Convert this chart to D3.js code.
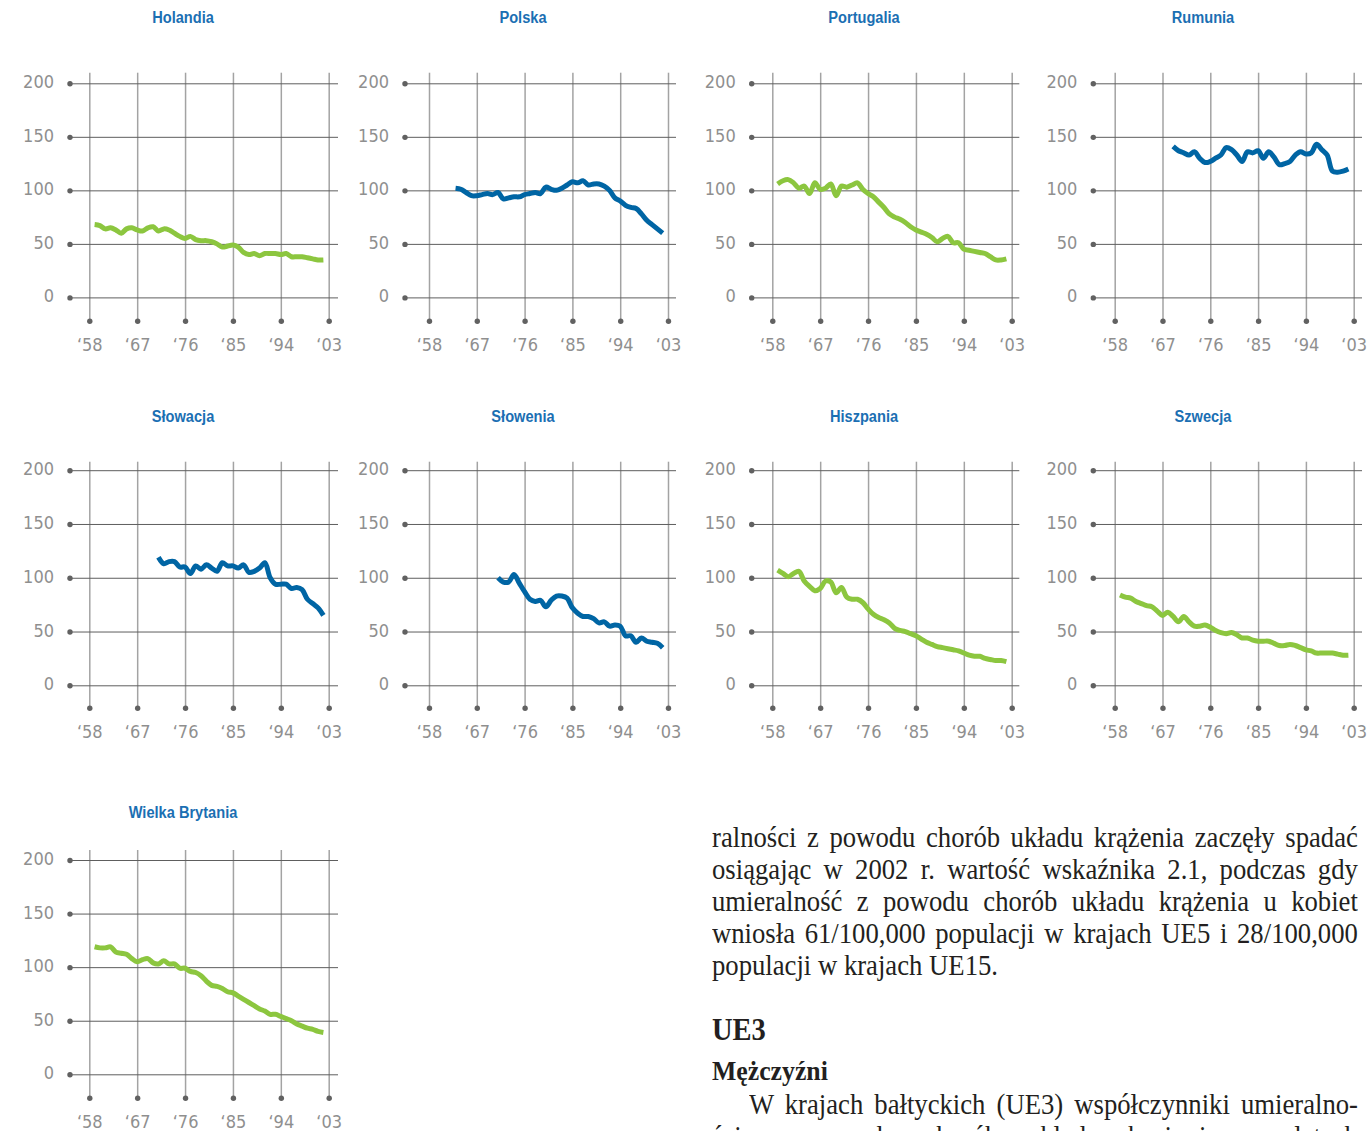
<!DOCTYPE html>
<html lang="pl">
<head>
<meta charset="utf-8">
<script src="https://cdn.jsdelivr.net/npm/d3@7"></script>
<style>
  html, body { margin: 0; padding: 0; background: #ffffff; }
  body { width: 1368px; height: 1131px; overflow: hidden; position: relative; }
  svg { position: absolute; left: 0; top: 0; }
  .txt { position: absolute; left: 712px; width: 702px; font-family: 'Liberation Serif', serif; font-size: 29px; line-height: 32px; color: #231f20; white-space: nowrap; transform: scaleX(0.92); transform-origin: 0 0; }
  .just { text-align: justify; text-align-last: justify; white-space: normal; }
  .h1 { font-weight: bold; font-size: 31px; }
  .h2 { font-weight: bold; font-size: 28px; }
</style>
</head>
<body>
<script>
// ---------- DATA ----------
const countries = ["Holandia", "Polska", "Portugalia", "Rumunia", "Słowacja", "Słowenia", "Hiszpania", "Szwecja", "Wielka Brytania"];
const groups = ["UE15", "nowe", "UE15", "nowe", "nowe", "nowe", "UE15", "UE15", "UE15"];
const startYears = [1959, 1963, 1959, 1969, 1971, 1971, 1959, 1959, 1959];

const holandia = [68, 67, 64, 65, 63, 60, 64, 65, 63, 62, 65, 66, 62, 64, 63, 60, 57, 55, 57, 54, 53, 53, 52, 50, 47, 48, 49, 47, 42, 40, 41, 39, 41, 41, 41, 40, 41, 38, 38, 38, 37, 36, 35, 35];
const polska = [102, 101, 98, 95, 95, 96, 97, 96, 98, 92, 93, 94, 94, 96, 97, 98, 97, 103, 101, 100, 102, 105, 108, 107, 109, 105, 106, 106, 104, 100, 93, 90, 86, 84, 83, 78, 72, 68, 64, 60];
const portugalia = [106, 109, 110, 107, 102, 104, 97, 107, 101, 102, 106, 95, 104, 103, 105, 107, 101, 97, 94, 89, 84, 78, 75, 73, 70, 66, 63, 61, 59, 56, 52, 55, 57, 51, 51, 45, 44, 43, 42, 41, 38, 35, 35, 36];
const rumunia = [141, 137, 135, 133, 136, 130, 126, 127, 130, 133, 140, 138, 133, 127, 136, 135, 137, 130, 136, 131, 124, 125, 127, 133, 136, 134, 135, 143, 138, 133, 118, 117, 118, 120];
const slowacja = [119, 113, 115, 115, 110, 110, 104, 111, 108, 112, 109, 106, 114, 111, 111, 109, 112, 105, 106, 109, 114, 100, 94, 94, 94, 90, 91, 89, 80, 76, 72, 65];
const slowenia = [100, 96, 96, 103, 95, 87, 80, 78, 79, 73, 79, 83, 83, 81, 72, 67, 64, 64, 62, 58, 59, 55, 56, 55, 46, 46, 40, 44, 41, 40, 39, 35];
const hiszpania = [107, 104, 101, 104, 106, 97, 92, 88, 90, 97, 96, 86, 91, 82, 80, 80, 77, 71, 66, 63, 61, 58, 53, 51, 50, 48, 46, 43, 40, 38, 36, 35, 34, 33, 32, 30, 28, 27, 27, 25, 24, 23, 23, 22];
const szwecja = [84, 82, 81, 78, 76, 74, 73, 69, 65, 68, 64, 59, 64, 59, 55, 55, 56, 54, 51, 49, 48, 49, 47, 44, 44, 42, 41, 41, 41, 39, 37, 37, 38, 37, 35, 33, 32, 30, 30, 30, 30, 29, 28, 28];
const wielkaBrytania = [119, 118, 118, 119, 114, 113, 112, 108, 105, 107, 108, 104, 103, 106, 103, 103, 99, 99, 96, 95, 92, 87, 83, 82, 80, 77, 76, 73, 70, 67, 64, 61, 59, 56, 56, 54, 52, 50, 47, 45, 43, 42, 40, 39];
const seriesValues = [holandia, polska, portugalia, rumunia, slowacja, slowenia, hiszpania, szwecja, wielkaBrytania];

const yTicks = [0, 50, 100, 150, 200];
const xTicks = [1958, 1967, 1976, 1985, 1994, 2003];
const xTickLabels = ["‘58", "‘67", "‘76", "‘85", "‘94", "‘03"];

// ---------- LAYOUT / STYLE ----------
const colorByGroup = { "UE15": "#8cc63f", "nowe": "#0065a4" };
const cols = [
  { dot: 70,    x0: 89.3,   x1: 328.7,  right: 338,    title: 183 },
  { dot: 405,   x0: 429,    x1: 668,    right: 676,    title: 523 },
  { dot: 751.7, x0: 772.3,  x1: 1011.7, right: 1019.3, title: 864 },
  { dot: 1093.3,x0: 1114.7, x1: 1353.7, right: 1362,   title: 1203 }
];
const rows = [
  { title: 17,  top: 72.7,  y200: 83.3,  y0: 297.4,  dots: 321.3,  labels: 345 },
  { title: 416, top: 461.7, y200: 470.2, y0: 685.3,  dots: 708.3,  labels: 732 },
  { title: 812, top: 850,   y200: 860,   y0: 1074.3, dots: 1098.3, labels: 1121.5 }
];

const svg = d3.select("body").append("svg").attr("width", 1368).attr("height", 1131);

const axisFont = "'DejaVu Sans Condensed', 'DejaVu Sans', sans-serif";

countries.forEach((name, i) => {
  const c = cols[i % 4], r = rows[Math.floor(i / 4)];
  const x = d3.scaleLinear().domain([1958, 2003]).range([c.x0, c.x1]);
  const y = d3.scaleLinear().domain([0, 200]).range([r.y0, r.y200]);
  const g = svg.append("g");

  // vertical grid (x axis)
  const xa = g.append("g").attr("transform", `translate(0,${r.dots})`)
    .call(d3.axisBottom(x).tickValues(xTicks).tickFormat((d, k) => xTickLabels[k]).tickSize(-(r.dots - r.top)).tickPadding(0));
  xa.select(".domain").remove();
  xa.selectAll(".tick line").attr("stroke", "#a3a3a3").attr("stroke-width", 1.5);
  xa.selectAll(".tick").append("circle").attr("r", 2.7).attr("fill", "#616161");
  xa.selectAll(".tick text").attr("y", r.labels - r.dots).attr("dy", null)
    .attr("dominant-baseline", "central")
    .style("font-family", axisFont).style("font-stretch", "condensed")
    .style("font-size", "18px").attr("fill", "#8f8f8f");

  // horizontal grid (y axis)
  const ya = g.append("g").attr("transform", `translate(${c.dot},0)`)
    .call(d3.axisLeft(y).tickValues(yTicks).tickSize(-(c.right - c.dot)).tickPadding(16));
  ya.select(".domain").remove();
  ya.selectAll(".tick line").attr("stroke", "#5e5e5e").attr("stroke-width", 1);
  ya.selectAll(".tick").append("circle").attr("r", 2.7).attr("fill", "#616161");
  ya.selectAll(".tick text").attr("dy", null).attr("y", -2).attr("dominant-baseline", "central")
    .style("font-family", axisFont).style("font-stretch", "condensed")
    .style("font-size", "18px").attr("fill", "#8f8f8f");

  // data line
  const vals = seriesValues[i].map((v, k) => ({ year: startYears[i] + k, v }));
  g.append("path").datum(vals)
    .attr("fill", "none")
    .attr("stroke", colorByGroup[groups[i]])
    .attr("stroke-width", 5)
    .attr("stroke-linejoin", "round")
    .attr("d", d3.line().x(d => x(d.year)).y(d => y(d.v)).curve(d3.curveCatmullRom.alpha(0.5)));

  // title
  g.append("text").attr("transform", `translate(${c.title},${r.title}) scale(0.86,1)`)
    .attr("text-anchor", "middle").attr("dominant-baseline", "central")
    .style("font-family", "'Liberation Sans Narrow', 'Liberation Sans', sans-serif")
    .style("font-weight", "bold").style("font-size", "17px")
    .attr("fill", "#1b6fb3").text(name);
});

// ---------- BODY TEXT ----------
const textLines = [
  { t: "ralności z powodu chorób układu krążenia zaczęły spadać", y: 821, cls: "txt just" },
  { t: "osiągając w 2002 r. wartość wskaźnika 2.1, podczas gdy", y: 853, cls: "txt just" },
  { t: "umieralność z powodu chorób układu krążenia u kobiet", y: 885, cls: "txt just" },
  { t: "wniosła 61/100,000 populacji w krajach UE5 i 28/100,000", y: 917, cls: "txt just" },
  { t: "populacji w krajach UE15.", y: 949, cls: "txt" },
  { t: "UE3", y: 1014, cls: "txt h1" },
  { t: "Mężczyźni", y: 1055, cls: "txt h2" },
  { t: "W krajach bałtyckich (UE3) współczynniki umieralno-", y: 1088, cls: "txt just", indent: 37 },
  { t: "ści z powodu chorób układu krążenia w latach dziewięćdziesiątych", y: 1120, cls: "txt just" }
];
textLines.forEach(l => {
  const d = d3.select("body").append("div").attr("class", l.cls)
    .style("top", l.y + "px").text(l.t);
  if (l.indent) d.style("left", (712 + l.indent) + "px").style("width", ((646 - l.indent) / 0.92) + "px");
});
</script>
</body>
</html>
